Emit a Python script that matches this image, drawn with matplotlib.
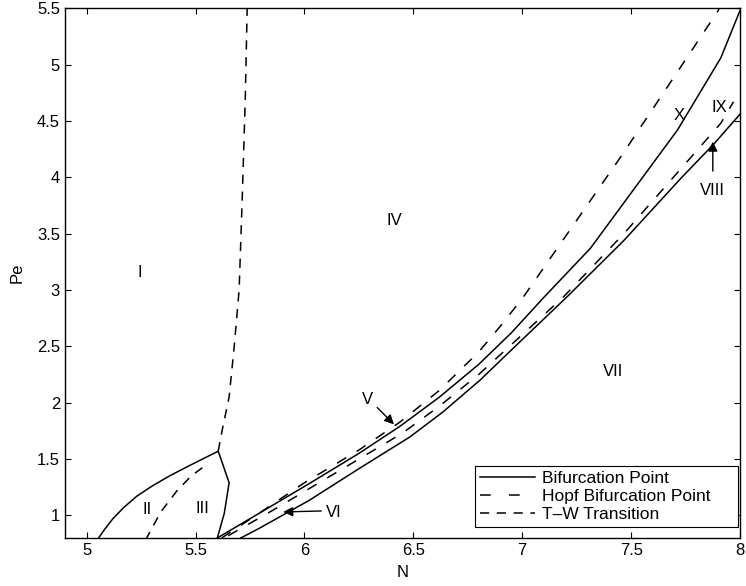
import numpy as np
import matplotlib
matplotlib.use('Agg')
import matplotlib.pyplot as plt
from matplotlib.lines import Line2D

plt.rcParams['font.family'] = ['Liberation Sans', 'DejaVu Sans']
plt.rcParams['font.size'] = 12

# --- data (N, Pe) ---
# closed lobe (bifurcation)
lobe_N = [5.055, 5.08, 5.12, 5.17, 5.23, 5.30, 5.38, 5.47, 5.604, 5.654, 5.632, 5.60]
lobe_Pe = [0.80, 0.87, 0.97, 1.07, 1.17, 1.26, 1.35, 1.44, 1.57, 1.29, 1.02, 0.80]

# upper bifurcation branch
upper_N = [5.60, 5.793, 6.02, 6.25, 6.438, 6.62, 6.80, 6.95, 7.097, 7.313, 7.713, 7.912, 8.0]
upper_Pe = [0.80, 1.02, 1.28, 1.55, 1.79, 2.05, 2.34, 2.62, 2.93, 3.37, 4.42, 5.06, 5.48]

# lower bifurcation branch
lower_N = [5.708, 5.793, 6.023, 6.253, 6.484, 6.636, 6.806, 7.0, 7.206, 7.467, 7.728, 7.882, 8.0]
lower_Pe = [0.80, 0.886, 1.135, 1.418, 1.696, 1.918, 2.20, 2.56, 2.94, 3.44, 3.99, 4.30, 4.56]

# Hopf branches
hopf1_N = [5.62, 5.80, 6.00, 6.25, 6.44, 6.62, 6.80, 6.90, 7.006, 7.452, 7.897, 7.93]
hopf1_Pe = [0.80, 1.03, 1.29, 1.58, 1.83, 2.11, 2.45, 2.68, 2.94, 4.18, 5.47, 5.60]
hopf2_N = [5.65, 5.85, 6.05, 6.25, 6.45, 6.62, 6.80, 7.19, 7.467, 7.912, 7.97]
hopf2_Pe = [0.82, 1.04, 1.27, 1.50, 1.73, 1.97, 2.25, 2.94, 3.50, 4.48, 4.67]

# T-W transition
tw1_N = [5.27, 5.34, 5.415, 5.48, 5.55]
tw1_Pe = [0.78, 1.03, 1.22, 1.35, 1.45]
tw2_N = [5.604, 5.622, 5.654, 5.677, 5.70, 5.714, 5.728, 5.737]
tw2_Pe = [1.57, 1.755, 2.05, 2.49, 3.0, 3.8, 4.68, 5.5]

regions = ['I', 'II', 'III', 'IV', 'VII', 'X', 'IX']
region_N = [5.244, 5.278, 5.531, 6.415, 7.415, 7.72, 7.905]
region_Pe = [3.156, 1.052, 1.06, 3.62, 2.28, 4.55, 4.62]

fig = plt.figure(figsize=(7.46, 5.86), dpi=100)
ax = fig.add_axes([0.087, 0.082, 0.905, 0.904])

lw = 1.1
hopf_dash = (7, 8)
tw_dash = (6, 5)
ax.plot(lobe_N, lobe_Pe, 'k-', lw=lw)
ax.plot(upper_N, upper_Pe, 'k-', lw=lw)
ax.plot(lower_N, lower_Pe, 'k-', lw=lw)
ax.plot(hopf1_N, hopf1_Pe, 'k--', lw=lw, dashes=hopf_dash)
ax.plot(hopf2_N, hopf2_Pe, 'k--', lw=lw, dashes=hopf_dash)
ax.plot(tw1_N, tw1_Pe, 'k--', lw=lw, dashes=tw_dash)
ax.plot(tw2_N, tw2_Pe, 'k--', lw=lw, dashes=tw_dash)

for lab, x, y in zip(regions, region_N, region_Pe):
    ax.text(x, y, lab, ha='center', va='center', fontsize=12)

arrow = dict(arrowstyle='-|>', color='k', lw=1.0, mutation_scale=14)
ax.annotate('', xy=(6.42, 1.79), xytext=(6.325, 1.975), arrowprops=arrow)
ax.text(6.29, 2.03, 'V', ha='center', va='center', fontsize=12)
ax.annotate('', xy=(5.89, 1.03), xytext=(6.09, 1.04), arrowprops=arrow)
ax.text(6.10, 1.03, 'VI', ha='left', va='center', fontsize=12)
ax.annotate('', xy=(7.875, 4.34), xytext=(7.875, 4.03), arrowprops=arrow)
ax.text(7.875, 3.885, 'VIII', ha='center', va='center', fontsize=12)

ax.set_xlim(4.9, 8)
ax.set_ylim(0.8, 5.5)
ax.set_xticks([5, 5.5, 6, 6.5, 7, 7.5, 8])
ax.set_xticklabels(['5', '5.5', '6', '6.5', '7', '7.5', '8'])
ax.set_yticks([1, 1.5, 2, 2.5, 3, 3.5, 4, 4.5, 5, 5.5])
ax.set_yticklabels(['1', '1.5', '2', '2.5', '3', '3.5', '4', '4.5', '5', '5.5'])
ax.tick_params(direction='in', top=True, right=True, length=4, width=0.8, labelsize=12)
for s in ax.spines.values():
    s.set_linewidth(1.0)
ax.set_xlabel('N', fontsize=12, labelpad=5)
ax.set_ylabel('Pe', fontsize=12, labelpad=9)

handles = [Line2D([], [], color='k', lw=lw),
           Line2D([], [], color='k', lw=lw, ls='--', dashes=(7, 12)),
           Line2D([], [], color='k', lw=lw, ls='--', dashes=(6, 5))]
leg = ax.legend(handles, ['Bifurcation Point', 'Hopf Bifurcation Point', 'T\u2013W Transition'],
                loc='lower left', bbox_to_anchor=(0.607, 0.021, 0.39, 0.117), mode='expand',
                borderaxespad=0, fancybox=False, framealpha=1, edgecolor='k', fontsize=12.5,
                handlelength=3.2, handletextpad=0.35, labelspacing=0.15, borderpad=0.3)
leg.get_frame().set_linewidth(0.8)

fig.savefig('out.png', dpi=100)
